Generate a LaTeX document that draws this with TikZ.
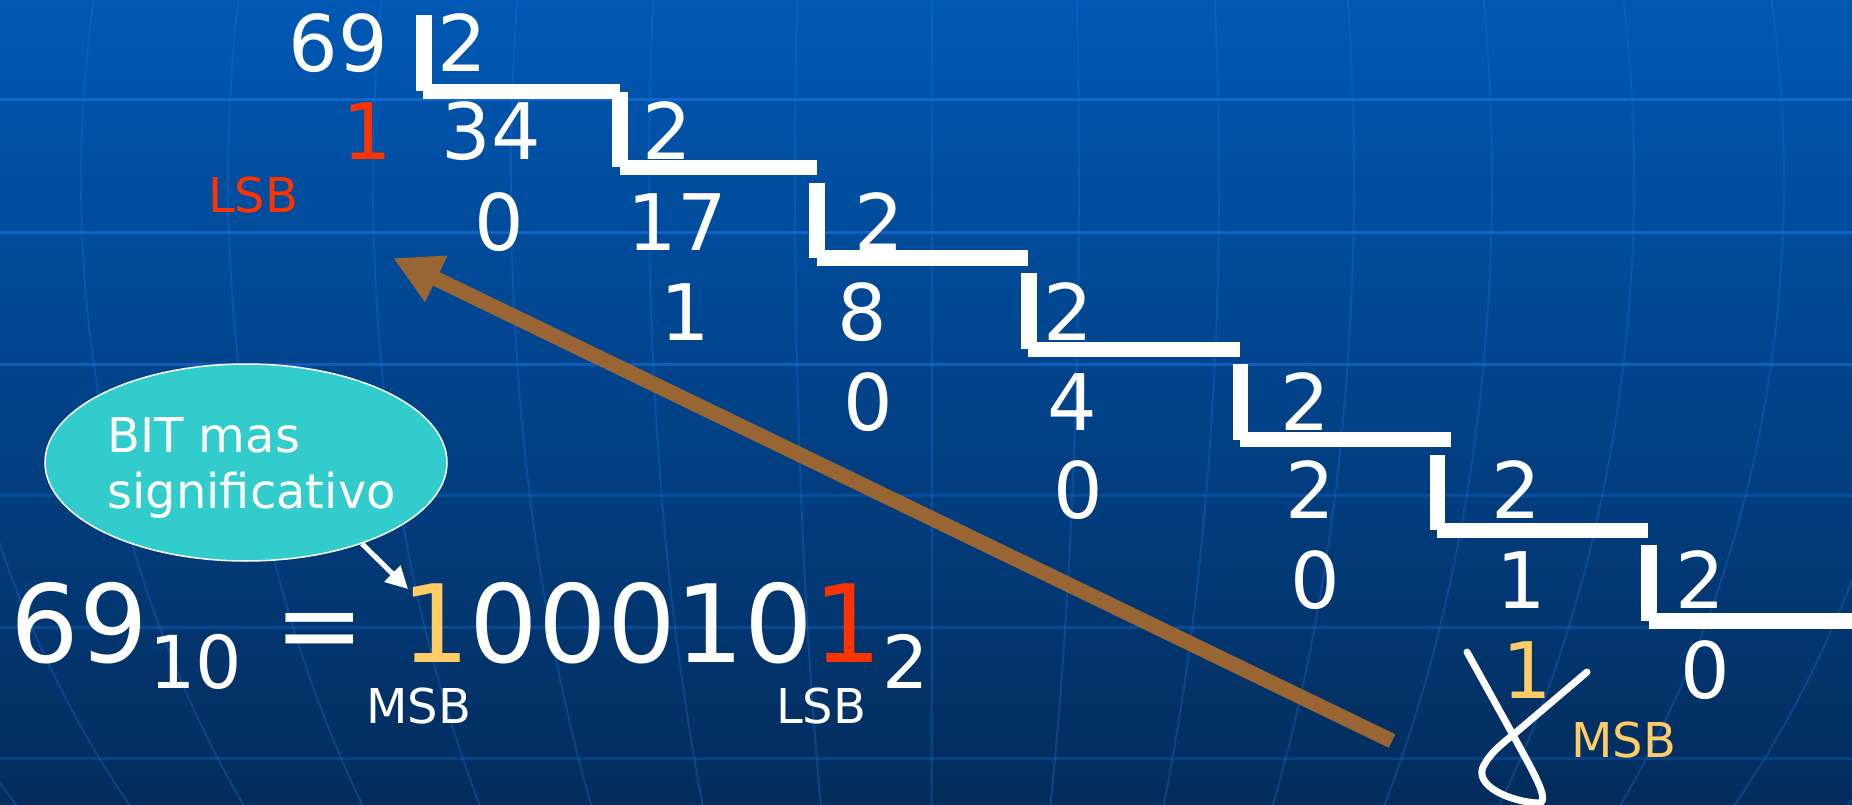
\documentclass[tikz,border=0pt]{standalone}
\usepackage{fontspec}
\setmainfont{DejaVu Sans}
\usetikzlibrary{arrows.meta,shapes.geometric}

\definecolor{bgtop}{HTML}{0058B4}
\definecolor{bgmid}{HTML}{00468F}
\definecolor{bgbot}{HTML}{032C5C}
\definecolor{gridblue}{HTML}{1670DA}
\definecolor{remred}{HTML}{FF3300}
\definecolor{msbyellow}{HTML}{FFCC66}
\definecolor{bubblefill}{HTML}{33CCCC}
\definecolor{arrowbrown}{HTML}{996633}

\begin{document}
\begin{tikzpicture}[x=1pt,y=-1pt,
  num/.style={text=white,inner sep=0pt,anchor=base,font=\fontsize{78}{78}\selectfont},
  bignum/.style={text=white,inner sep=0pt,anchor=base west,font=\fontsize{108}{108}\selectfont},
  subnum/.style={text=white,inner sep=0pt,anchor=base west,font=\fontsize{73}{73}\selectfont},
  tag/.style={inner sep=0pt,anchor=base west,font=\fontsize{48}{48}\selectfont},
  bar/.style={fill=white},
  gridline/.style={gridblue,line width=3pt},
  meridian/.style={gridblue,line width=2pt,opacity=0.35},
  bubble/.style={ellipse,fill=bubblefill,draw=white,line width=1.5pt,
    minimum width=402pt,minimum height=197pt,inner sep=0pt},
  pointer/.style={white,line width=5pt,-{Triangle[length=22pt,width=22pt]}},
  readarrow/.style={arrowbrown,line width=15pt,-{Triangle[length=48pt,width=48pt]}},
  loopmark/.style={white,line width=7pt,line cap=round,line join=round}
]
\useasboundingbox (0,0) rectangle (1852,805);

% background with grid of a globe
\shade[top color=bgtop,middle color=bgmid,bottom color=bgbot] (0,0) rectangle (1852,805);
\begin{scope}
  \clip (0,0) rectangle (1852,805);
  \foreach \yy/\op in {100/0.75,232/0.7,364/0.6,495/0.35,627/0.35,758/0.3}
    \draw[gridline,opacity=\op] (0,\yy) -- (1852,\yy);
  \foreach \mer in {-1130,-990,-849,-702,-557,-419,-281,-135,2,149,289,424,562,704,854,995,1135}
    \draw[meridian] plot[domain=-0.18:0.64,samples=25,smooth]
      ({930+\mer*cos(\x r)},{181+1061*sin(\x r)});
\end{scope}

% division brackets
\fill[bar] (416,15) rectangle (432,91);    \fill[bar] (423,84) rectangle (620,99);
\fill[bar] (612,92) rectangle (628,167);   \fill[bar] (620,160) rectangle (817,175);
\fill[bar] (809,183) rectangle (825,258);  \fill[bar] (817,250) rectangle (1028,266);
\fill[bar] (1021,273) rectangle (1037,349);\fill[bar] (1028,342) rectangle (1240,357);
\fill[bar] (1233,364) rectangle (1248,440);\fill[bar] (1240,432) rectangle (1451,447);
\fill[bar] (1430,455) rectangle (1445,530);\fill[bar] (1437,523) rectangle (1648,538);
\fill[bar] (1641,545) rectangle (1657,621);\fill[bar] (1649,613) rectangle (1852,629);

% successive divisions by 2
\node[num] (q0) at (338.5,72) {69};
\node[num] (d1) at (462,72) {2};
\node[num,text=remred] (r1) at (367.5,160) {1};
\node[num] (q1) at (491.5,160) {34};
\node[num] (d2) at (667.5,160) {2};
\node[num] (r2) at (499,250) {0};
\node[num] (q2) at (677.5,250) {17};
\node[num] (d3) at (879,250) {2};
\node[num] (r3) at (685,340) {1};
\node[num] (q3) at (862.5,340) {8};
\node[num] (d4) at (1068.5,340) {2};
\node[num] (r4) at (868,430) {0};
\node[num] (q4) at (1072.5,430) {4};
\node[num] (d5) at (1305.5,430) {2};
\node[num] (r5) at (1078,518) {0};
\node[num] (q5) at (1310,518) {2};
\node[num] (d6) at (1516.5,518) {2};
\node[num] (r6) at (1315.5,608) {0};
\node[num] (q6) at (1521,608) {1};
\node[num] (d7) at (1700.5,608) {2};
\node[num,text=msbyellow] (r7) at (1527,698) {1};
\node[num] (q7) at (1705,698) {0};

\node[tag,text=remred] (lsbtop) at (208,213) {LSB};
\node[tag,text=msbyellow] (msbside) at (1571,757) {MSB};

% hand-drawn loop beside the last remainder
\draw[loopmark] (1467,652) -- (1513,735)
  .. controls (1532,770) and (1552,803) .. (1538,803)
  .. controls (1512,802) and (1472,786) .. (1484,765)
  .. controls (1490,754) and (1500,745) .. (1513,735) -- (1587,672);

% reading direction of the remainders
\coordinate (readstart) at (1392,741);
\coordinate (readend) at (393,258);
\draw[readarrow] (readstart) -- (readend);

% result
\node[bignum] (dec) at (10.5,662) {69};
\node[subnum] (decbase) at (149,688) {10};
\node[text=white,inner sep=0pt,anchor=base,font=\fontsize{108}{108}\selectfont] (eq) at (320,662) {=};
\node[bignum] (bin) at (401,662)
  {\textcolor{msbyellow}{1}00010\textcolor{remred}{1}\raisebox{-26pt}[\height][0pt]{\fontsize{73}{73}\selectfont 2}};
\node[tag,text=white] (msbbot) at (366,723) {MSB};
\node[tag,text=white] (lsbbot) at (776,723) {LSB};

% callout
\node[bubble] (callout) at (246,462.5) {};
\node[tag,text=white] (calloutA) at (107,452) {BIT mas};
\node[tag,text=white] (calloutB) at (107,508) {significativo};
\coordinate (msbdigit) at (408,589);
\draw[pointer] (callout.-35) -- (msbdigit);
\end{tikzpicture}
\end{document}
